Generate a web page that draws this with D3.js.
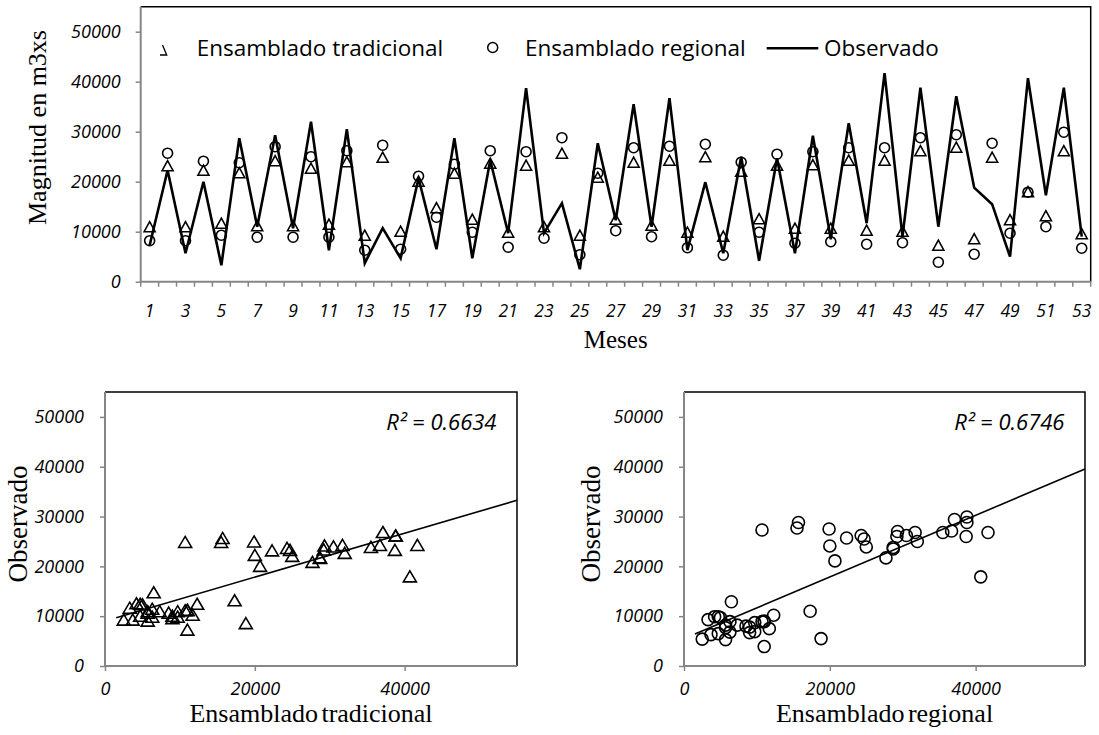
<!DOCTYPE html>
<html>
<head>
<meta charset="utf-8">
<script src="https://cdn.jsdelivr.net/npm/d3@7"></script>
<style>
  body { margin: 0; background: #fff; }
  svg { display: block; }
</style>
</head>
<body>
<svg id="chart" width="1099" height="735"></svg>
<script>
// Monthly flows (m3xs): observed series and the two ensemble forecasts
const months = d3.range(1, 54);
const observado = [
  7300, 22300, 5700, 20000, 3300, 28700, 11000, 29300, 10700, 32000,
  6300, 30500, 3700, 10700, 4700, 20700, 6500, 28700, 4700, 24300,
  9700, 38700, 9700, 15700, 2500, 27700, 12300, 35500, 11000, 36700,
  6300, 19900, 5700, 25000, 4200, 24700, 5700, 29200, 8500, 31700,
  11700, 41700, 9000, 38800, 11000, 37100, 18800, 15500, 5000, 40700,
  17300, 38800, 9000
];
const tradicional = [
  11000, 23200, 11000, 22300, 11700, 21800, 11200, 24200, 11200, 22700,
  11500, 24000, 9300, 24900, 10100, 20100, 14800, 21700, 12500, 23700,
  9900, 23300, 11000, 25700, 9300, 20900, 12500, 23900, 11300, 24300,
  9900, 25000, 9100, 22100, 12600, 23300, 10700, 23400, 10700, 24300,
  10300, 24300, 10100, 26200, 7300, 26900, 8600, 24900, 12400, 18000,
  13200, 26200, 9600
];
const regional = [
  8200, 25700, 8200, 24100, 9300, 23800, 8900, 27000, 8900, 25000,
  8900, 26200, 6300, 27300, 6500, 21100, 12900, 23500, 9900, 26200,
  6900, 26000, 8700, 28800, 5400, 21700, 10200, 26800, 9000, 27100,
  6800, 27500, 5300, 23900, 9900, 25500, 7700, 26000, 8000, 26800,
  7500, 26800, 7800, 28800, 3900, 29400, 5500, 27700, 9700, 17900,
  11000, 29900, 6700
];

const valueMax = 55000;
const yTicks = [0, 10000, 20000, 30000, 40000, 50000];
const scatterXTicks = [0, 20000, 40000];
const monthLabels = months.filter(m => m % 2 === 1);
const seriesNames = ["Ensamblado tradicional", "Ensamblado regional", "Observado"];
const r2Text = ["R\u00B2 = 0.6634", "R\u00B2 = 0.6746"];
const trendBack = 1000;   // trendline extends 1000 units before the first point

const tickFont = "'Open Sans', 'Noto Sans', sans-serif";
const serifFont = "'Liberation Serif', 'Times New Roman', serif";
const axisGrey = "#868686";
const fmt = d3.format("d");

const svg = d3.select("#chart");

// Open triangle path centred on its bounding box
function triPath(w, h) {
  return `M0,${-h / 2}L${w / 2},${h / 2}L${-w / 2},${h / 2}Z`;
}

function styleAxis(g, fontSize) {
  g.select(".domain").attr("stroke", axisGrey).attr("stroke-width", 2);
  g.selectAll(".tick line").attr("stroke", axisGrey).attr("stroke-width", 1.5);
  g.selectAll(".tick text")
    .attr("fill", "#000")
    .style("font-family", tickFont)
    .style("font-style", "italic")
    .style("font-size", fontSize + "px");
}

// ---------- Time series panel ----------
const ts = { left: 140.7, right: 1090.7, top: 6.7, bottom: 281.7 };
const x = d3.scaleBand().domain(months).range([ts.left, ts.right]);
const y = d3.scaleLinear().domain([0, valueMax]).range([ts.bottom, ts.top]);
const cx = m => x(m) + x.bandwidth() / 2;

const tsG = svg.append("g");

// plot frame (top and right edges in black)
tsG.append("path")
  .attr("d", `M${ts.left},${ts.top}H${ts.right}V${ts.bottom}`)
  .attr("fill", "none").attr("stroke", "#000").attr("stroke-width", 1.5);

// y axis
tsG.append("g")
  .attr("transform", `translate(${ts.left},0)`)
  .call(d3.axisLeft(y).tickValues(yTicks).tickFormat(fmt).tickSize(5).tickSizeOuter(0).tickPadding(15))
  .call(g => styleAxis(g, 18))
  .call(g => g.select(".domain").attr("d", `M0,${ts.top}V${ts.bottom}`));

// x axis: labels on odd months, tick marks on category boundaries
const xAxisG = tsG.append("g")
  .attr("transform", `translate(0,${ts.bottom})`)
  .call(d3.axisBottom(x).tickValues(monthLabels).tickSize(0).tickPadding(23))
  .call(g => styleAxis(g, 17.5));
xAxisG.select(".domain").attr("d", `M${ts.left},0H${ts.right}`);
xAxisG.selectAll(".bound")
  .data(months.concat([months.length + 1]))
  .join("line")
  .attr("class", "bound")
  .attr("x1", m => m <= months.length ? x(m) : ts.right)
  .attr("x2", m => m <= months.length ? x(m) : ts.right)
  .attr("y1", 0).attr("y2", 5)
  .attr("stroke", axisGrey).attr("stroke-width", 1.5);

// observed line
tsG.append("path")
  .datum(months)
  .attr("fill", "none")
  .attr("stroke", "#000")
  .attr("stroke-width", 2.6)
  .attr("stroke-linejoin", "miter")
  .attr("d", d3.line().x(cx).y((m, i) => y(observado[i])));

// ensemble markers
tsG.append("g").selectAll("path")
  .data(months)
  .join("path")
  .attr("transform", (m, i) => `translate(${cx(m)},${y(tradicional[i])})`)
  .attr("d", triPath(11, 10))
  .attr("fill", "none").attr("stroke", "#000").attr("stroke-width", 1.6);

tsG.append("g").selectAll("circle")
  .data(months)
  .join("circle")
  .attr("cx", cx)
  .attr("cy", (m, i) => y(regional[i]))
  .attr("r", 5)
  .attr("fill", "none").attr("stroke", "#000").attr("stroke-width", 1.6);

// legend
const leg = tsG.append("g")
  .style("font-family", tickFont)
  .style("font-size", "22.5px");
leg.append("path")
  .attr("d", "M162.5,45L166.7,55H160")
  .attr("fill", "none").attr("stroke", "#000").attr("stroke-width", 1.3);
leg.append("text").attr("x", 196.7).attr("y", 56).text(seriesNames[0]);
leg.append("circle").attr("cx", 492.7).attr("cy", 47.5).attr("r", 5)
  .attr("fill", "none").attr("stroke", "#000").attr("stroke-width", 1.5);
leg.append("text").attr("x", 525).attr("y", 56).text(seriesNames[1]);
leg.append("line").attr("x1", 766.7).attr("x2", 818.3).attr("y1", 48.3).attr("y2", 48.3)
  .attr("stroke", "#000").attr("stroke-width", 2.6);
leg.append("text").attr("x", 824).attr("y", 56).text(seriesNames[2]);

// axis titles
svg.append("text")
  .attr("transform", "translate(38,127.5) rotate(-90)")
  .attr("text-anchor", "middle").attr("dy", "0.3em")
  .style("font-family", serifFont).style("font-size", "26px")
  .text("Magnitud en m3xs");
svg.append("text")
  .attr("x", (ts.left + ts.right) / 2).attr("y", 348)
  .attr("text-anchor", "middle")
  .style("font-family", serifFont).style("font-size", "25px")
  .text("Meses");

// ---------- Scatter panels ----------
function scatter(opts) {
  const { left, right, top, bottom, pred, marker, title, r2, titleX, yTitleX } = opts;
  const sx = d3.scaleLinear().domain([0, valueMax]).range([left, right]);
  const sy = d3.scaleLinear().domain([0, valueMax]).range([bottom, top]);
  const g = svg.append("g");

  g.append("path")
    .attr("d", `M${left},${top}H${right}V${bottom}`)
    .attr("fill", "none").attr("stroke", "#000").attr("stroke-width", 1.5);

  g.append("g")
    .attr("transform", `translate(${left},0)`)
    .call(d3.axisLeft(sy).tickValues(yTicks).tickFormat(fmt).tickSize(5).tickSizeOuter(0).tickPadding(16))
    .call(a => styleAxis(a, 18))
    .call(a => a.select(".domain").attr("d", `M0,${top}V${bottom}`));

  g.append("g")
    .attr("transform", `translate(0,${bottom})`)
    .call(d3.axisBottom(sx).tickValues(scatterXTicks).tickFormat(fmt).tickSize(5).tickSizeOuter(0).tickPadding(11))
    .call(a => styleAxis(a, 18))
    .call(a => a.select(".domain").attr("d", `M${left},0H${right}`));

  // least-squares trendline of the ensemble against the observed values
  const mx = d3.mean(observado), my = d3.mean(pred);
  let sxy = 0, sxx = 0;
  observado.forEach((v, i) => { sxy += (v - mx) * (pred[i] - my); sxx += (v - mx) ** 2; });
  const slope = sxy / sxx, icpt = my - slope * mx;
  const x0 = d3.min(observado) - trendBack, x1 = valueMax;
  g.append("line")
    .attr("x1", sx(x0)).attr("y1", sy(icpt + slope * x0))
    .attr("x2", sx(x1)).attr("y2", sy(icpt + slope * x1))
    .attr("stroke", "#000").attr("stroke-width", 1.6);

  const pts = g.append("g");
  if (marker === "tri") {
    pts.selectAll("path").data(observado).join("path")
      .attr("transform", (v, i) => `translate(${sx(v)},${sy(pred[i])})`)
      .attr("d", triPath(13, 11))
      .attr("fill", "none").attr("stroke", "#000").attr("stroke-width", 1.6);
  } else {
    pts.selectAll("circle").data(observado).join("circle")
      .attr("cx", v => sx(v)).attr("cy", (v, i) => sy(pred[i])).attr("r", 6)
      .attr("fill", "none").attr("stroke", "#000").attr("stroke-width", 1.6);
  }

  g.append("text")
    .attr("x", right - 20.5).attr("y", 430)
    .attr("text-anchor", "end")
    .style("font-family", tickFont).style("font-style", "italic").style("font-size", "22px")
    .text(r2);

  g.append("text")
    .attr("x", titleX).attr("y", 722)
    .attr("text-anchor", "middle")
    .style("font-family", serifFont).style("font-size", "26px")
    .style("word-spacing", "-3px")
    .text(title);

  g.append("text")
    .attr("transform", `translate(${yTitleX},${(top + bottom) / 2 - 5}) rotate(-90)`)
    .attr("text-anchor", "middle").attr("dy", "0.3em")
    .style("font-family", serifFont).style("font-size", "27px")
    .text(seriesNames[2]);
}

scatter({ left: 105, right: 517, top: 392, bottom: 666, pred: tradicional, marker: "tri",
          title: seriesNames[0], r2: r2Text[0], titleX: 311, yTitleX: 19 });
scatter({ left: 684, right: 1085, top: 392, bottom: 666, pred: regional, marker: "circ",
          title: seriesNames[1], r2: r2Text[1], titleX: 884.5, yTitleX: 592 });
</script>
</body>
</html>
